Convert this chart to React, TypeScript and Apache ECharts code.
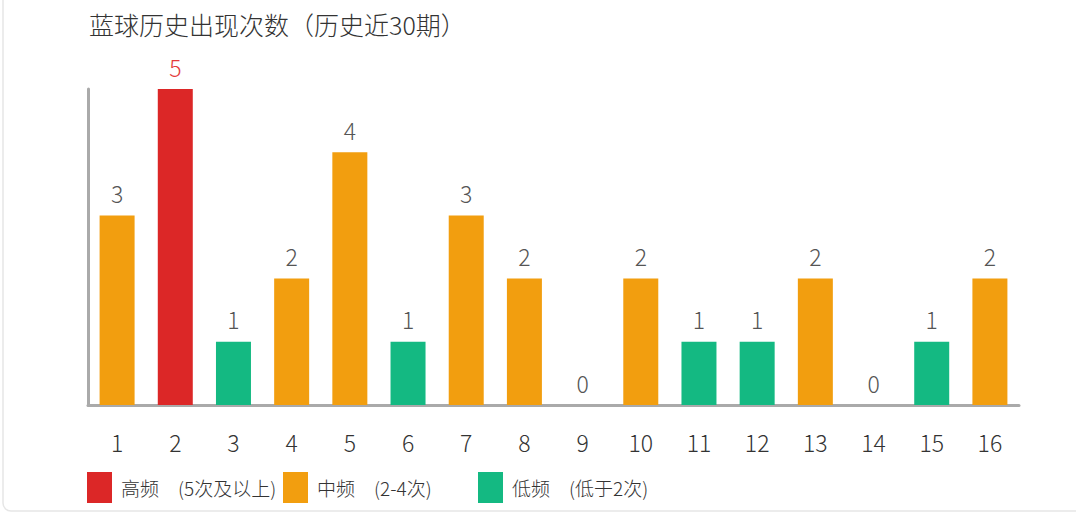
import { useEffect, useRef } from "react";
import * as echarts from "echarts";

const categories = ["1", "2", "3", "4", "5", "6", "7", "8", "9", "10", "11", "12", "13", "14", "15", "16"];
const counts = [3, 5, 1, 2, 4, 1, 3, 2, 0, 2, 1, 1, 2, 0, 1, 2];

const bands = [
  { name: "高频", text: "(5次及以上)", color: "#dc2727", labelColor: "#e43a3a", test: (v: number) => v >= 5 },
  { name: "中频", text: "(2-4次)", color: "#f29e0f", labelColor: "#555", test: (v: number) => v >= 2 && v <= 4 },
  { name: "低频", text: "(低于2次)", color: "#14b982", labelColor: "#555", test: (v: number) => v < 2 },
];
const legendLeft = [87, 283, 478];

const FONT = "'Noto Sans CJK SC', sans-serif";

export default function App() {
  const chartRef = useRef<HTMLDivElement>(null);

  useEffect(() => {
    const chart = echarts.init(chartRef.current, null, { renderer: "svg" });

    const options = {
      animation: false,
      backgroundColor: "#fff",
      title: {
        text: "蓝球历史出现次数（历史近30期）",
        left: 89,
        top: 11,
        padding: 0,
        textStyle: { fontSize: 25, fontWeight: 300, color: "#333", fontFamily: FONT },
      },
      legend: bands.map((b, i) => ({
        data: [b.name],
        left: legendLeft[i],
        top: 472,
        padding: 0,
        itemWidth: 25,
        itemHeight: 31,
        itemGap: 0,
        icon: "rect",
        selectedMode: false,
        formatter: (name: string) => `${name}　${bands.find((x) => x.name === name)!.text}`,
        textStyle: { fontSize: 19, fontWeight: 300, color: "#333", fontFamily: FONT, padding: [0, 0, 0, 4] },
      })),
      graphic: [
        {
          type: "rect",
          shape: { x: 3, y: -20, width: 1100, height: 531, r: 8 },
          style: { fill: "none", stroke: "#e6e6e6", lineWidth: 1.5 },
          silent: true,
        },
      ],
      grid: { left: 88, right: 57, top: 89, bottom: 110 },
      xAxis: {
        type: "category",
        data: categories,
        axisTick: { show: false },
        axisLine: { lineStyle: { color: "#aaa", width: 3 } },
        axisLabel: { margin: 25, fontSize: 23, fontWeight: 300, color: "#333", fontFamily: FONT },
      },
      yAxis: {
        type: "value",
        min: 0,
        max: 5,
        interval: 1,
        axisLine: { show: true, lineStyle: { color: "#aaa", width: 3 } },
        axisTick: { show: false },
        axisLabel: { show: false },
        splitLine: { show: false },
      },
      series: bands.map((b) => ({
        name: b.name,
        type: "bar",
        barWidth: 35,
        barGap: "-100%",
        itemStyle: { color: b.color },
        label: {
          show: true,
          position: "top",
          distance: 11,
          fontSize: 23,
          fontWeight: 300,
          color: b.labelColor,
          fontFamily: FONT,
        },
        data: counts.map((v) => (b.test(v) ? v : "-")),
      })),
    };

    chart.setOption(options);

    return () => {
      chart.dispose();
    };
  }, []);

  return (
    <div
      ref={chartRef}
      style={{ position: "fixed", left: 0, top: 0, width: "1076px", height: "515px" }}
    />
  );
}
